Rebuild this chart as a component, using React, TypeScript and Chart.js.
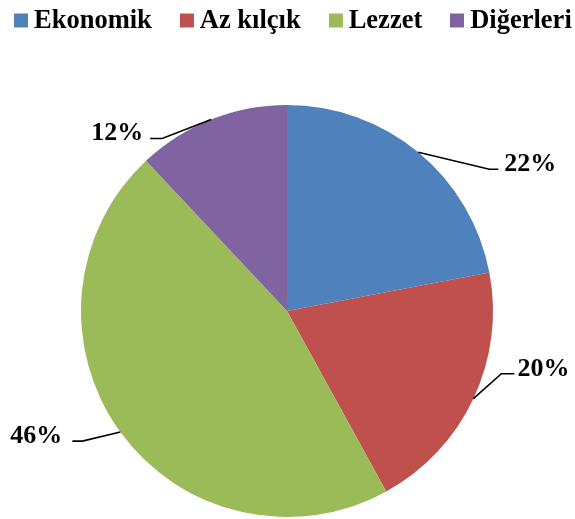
import React, { useEffect, useRef } from "react";
import { Chart, registerables } from "chart.js";

Chart.register(...registerables);

const categories = ["Ekonomik", "Az kılçık", "Lezzet", "Diğerleri"];
const values = [22, 20, 46, 12];
const colors = ["#4F81BD", "#C0504D", "#9BBB59", "#8064A2"];

// leader-line styling per slice: elbow offset from the arc point, tail length, text gap
const leaderStyle = [
  { dx: 71, dy: 17, tail: 9, gap: 6 },
  { dx: 28, dy: -25, tail: 13, gap: 3 },
  { dx: -38, dy: 9, tail: -10, gap: 10 },
  { dx: -49, dy: 19, tail: -12, gap: 7 },
];

const LEGEND_FONT = "bold 26.5px 'Liberation Serif', 'Times New Roman', serif";
const LABEL_FONT = "bold 26px 'Liberation Serif', 'Times New Roman', serif";

const legendPlugin = {
  id: "customLegend",
  afterDraw(chart: any) {
    const ctx = chart.ctx;
    ctx.save();
    ctx.font = LEGEND_FONT;
    ctx.textBaseline = "alphabetic";
    const box = 14;
    const boxGap = 6;
    const itemGap = 28;
    const widths = categories.map((c) => box + boxGap + ctx.measureText(c).width);
    let x = 14;
    const baseline = 27.7;
    categories.forEach((c, i) => {
      ctx.fillStyle = colors[i];
      ctx.fillRect(Math.round(x), 13.5, box, box);
      ctx.fillStyle = "#000";
      ctx.textAlign = "left";
      ctx.fillText(c, x + box + boxGap, baseline);
      x += widths[i] + itemGap;
    });
    ctx.restore();
  },
};

const labelPlugin = {
  id: "leaderLabels",
  afterDatasetsDraw(chart: any) {
    const ctx = chart.ctx;
    const meta = chart.getDatasetMeta(0);
    ctx.save();
    ctx.font = LABEL_FONT;
    ctx.strokeStyle = "#000";
    ctx.lineWidth = 1.6;
    ctx.fillStyle = "#000";
    ctx.textBaseline = "alphabetic";
    meta.data.forEach((arc: any, i: number) => {
      const { x, y, startAngle, endAngle, outerRadius } = arc.getProps(
        ["x", "y", "startAngle", "endAngle", "outerRadius"],
        true
      );
      const mid = (startAngle + endAngle) / 2;
      const px = x + Math.cos(mid) * outerRadius;
      const py = y + Math.sin(mid) * outerRadius;
      const s = leaderStyle[i];
      const ex = px + s.dx;
      const ey = py + s.dy;
      const tx = ex + s.tail;
      ctx.beginPath();
      ctx.moveTo(px, py);
      ctx.lineTo(ex, ey);
      ctx.lineTo(tx, ey);
      ctx.stroke();
      const text = `${values[i]}%`;
      if (s.tail >= 0) {
        ctx.textAlign = "left";
        ctx.fillText(text, tx + s.gap, ey + 2);
      } else {
        ctx.textAlign = "right";
        ctx.fillText(text, tx - s.gap, ey + 2);
      }
    });
    ctx.restore();
  },
};

export default function App() {
  const ref = useRef<HTMLCanvasElement | null>(null);
  useEffect(() => {
    document.body.style.margin = "0";
    const chart = new Chart(ref.current as HTMLCanvasElement, {
      type: "pie",
      data: {
        labels: categories,
        datasets: [
          {
            data: values,
            backgroundColor: colors,
            borderWidth: 0,
          },
        ],
      },
      options: {
        animation: false,
        responsive: false,
        layout: { padding: { top: 105, bottom: 2, left: 81, right: 82 } },
        plugins: {
          legend: { display: false },
          tooltip: { enabled: false },
        },
      },
      plugins: [legendPlugin, labelPlugin],
    });
    return () => chart.destroy();
  }, []);
  return (
    <div style={{ width: 575, height: 519, background: "#fff" }}>
      <canvas ref={ref} width={575} height={519} style={{ display: "block" }} />
    </div>
  );
}
